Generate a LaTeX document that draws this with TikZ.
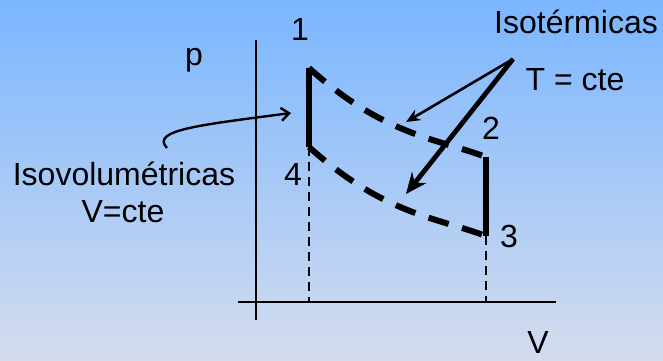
\documentclass[tikz,border=0pt]{standalone}
\usepackage{fontspec}
\setmainfont{Liberation Sans}
\usetikzlibrary{arrows.meta}
\definecolor{bgtop}{RGB}{122,182,255}
\definecolor{bgbot}{RGB}{212,220,238}
\tikzset{
  lbl/.style={font=\fontsize{32}{32}\selectfont, inner sep=0pt, anchor=base},
  axis/.style={line width=2.8pt},
  iso/.style={line width=6pt},
  isotherm/.style={line width=6pt, dash pattern=on 21pt off 14pt},
  guide/.style={line width=2.3pt, dash pattern=on 9pt off 6pt},
  thinarrow/.style={line width=2.6pt, -{Stealth[length=14pt,width=12pt]}},
  thickarrow/.style={line width=4.8pt, -{Stealth[length=21pt,width=18pt]}},
  curvearrow/.style={line width=2.4pt, -{Straight Barb[length=8pt,width=13pt]}}
}
\begin{document}
\begin{tikzpicture}[x=1pt,y=-1pt]
\shade[top color=bgtop, bottom color=bgbot] (0,0) rectangle (663,360);
\useasboundingbox (0,0) rectangle (663,360);
% axes
\coordinate (ytop) at (256,40);
\coordinate (ybot) at (256,320);
\coordinate (xl) at (238,302);
\coordinate (xr) at (556,302);
\draw[axis] (ytop) -- (ybot);
\draw[axis] (xl) -- (xr);
% cycle points
\coordinate (p1) at (309,68);
\coordinate (p4) at (309,147);
\coordinate (p2) at (486,157);
\coordinate (p3) at (486,236);
\coordinate (f4) at (309,302);
\coordinate (f3) at (486,302);
% guides
\draw[guide] (p4) -- (f4);
\draw[guide] (p3) -- (f3);
% isochores
\draw[iso] (p1) -- (p4);
\draw[iso] (p2) -- (p3);
% isotherms
\draw[isotherm] (p1) .. controls +(75,67.5) and +(-50,-18.75) .. (p2);
\draw[isotherm] (p4) .. controls +(75,67.5) and +(-50,-18.75) .. (p3);
% labels
\node[lbl] (l1) at (300,40) {1};
\node[lbl] (l2) at (491,139) {2};
\node[lbl] (l3) at (509,247) {3};
\node[lbl] (l4) at (293,185) {4};
\node[lbl] (lp) at (194,65) {p};
\node[lbl] (lV) at (538,353) {V};
\node[lbl] (liso) at (576,33) {Isotérmicas};
\node[lbl] (ltc) at (575,90) {T = cte};
\node[lbl] (lvol) at (124,185) {Isovolumétricas};
\node[lbl] (lvc) at (123,222) {V=cte};
% arrows
\coordinate (src) at (513,59);
\coordinate (t1) at (406,122);
\coordinate (t2) at (406,194);
\draw[thinarrow] (src) -- (t1);
\draw[thickarrow] (src) -- (t2);
\coordinate (cs) at (167,148);
\coordinate (ct) at (291,113);
\draw[curvearrow] (cs) .. controls (150,130) and (200,125) .. (ct);
\end{tikzpicture}
\end{document}
